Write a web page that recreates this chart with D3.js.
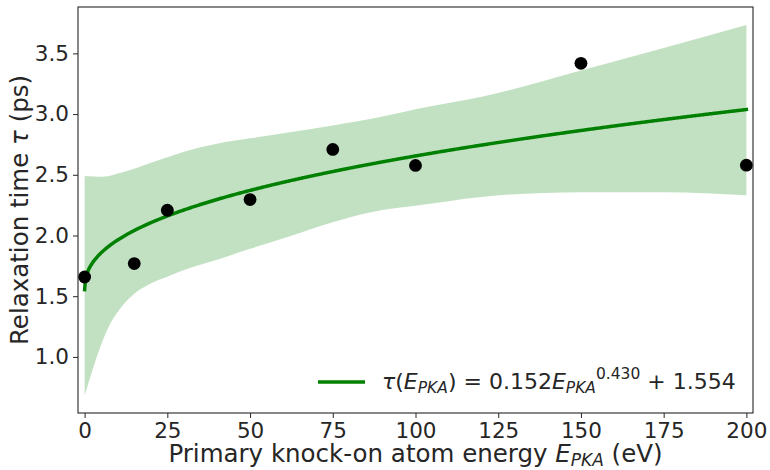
<!DOCTYPE html>
<html>
<head>
<meta charset="utf-8">
<script src="https://cdn.jsdelivr.net/npm/d3@7"></script>
<style>
  html, body { margin: 0; padding: 0; background: #fff; }
  svg { display: block; font-family: "DejaVu Sans", sans-serif; }
</style>
</head>
<body>
<svg id="chart" width="770" height="470"></svg>
<script>
// Measured relaxation times per PKA energy
const energies = [0, 15, 25, 50, 75, 100, 150, 200];
const tauValues = [1.658, 1.769, 2.208, 2.296, 2.709, 2.577, 3.418, 2.579];

// Confidence band of the power-law fit
const bandE    = [0, 2, 4, 6, 8, 10, 12, 15, 20, 25, 30, 40, 50, 62, 75, 90, 100, 120, 150, 175, 200];
const bandLow  = [0.683, 0.86, 1.027, 1.17, 1.287, 1.37, 1.439, 1.52, 1.605, 1.66, 1.715, 1.80, 1.89, 1.994, 2.11, 2.21, 2.245, 2.318, 2.357, 2.357, 2.332];
const bandHigh = [2.49, 2.487, 2.483, 2.485, 2.495, 2.51, 2.525, 2.55, 2.60, 2.645, 2.69, 2.756, 2.80, 2.85, 2.907, 2.98, 3.04, 3.142, 3.36, 3.545, 3.733];

// Fit parameters: tau = a * E^b + c
const fitA = 0.152, fitB = 0.430, fitC = 1.554;

const xTicks = [0, 25, 50, 75, 100, 125, 150, 175, 200];
const yTicks = [1.0, 1.5, 2.0, 2.5, 3.0, 3.5];

const svg = d3.select("#chart");
const plotLeft = 78, plotRight = 753, plotTop = 7, plotBottom = 413;
const textColor = "#262626";

const x = d3.scaleLinear().domain([-2, 202]).range([plotLeft, plotRight]);
const y = d3.scaleLinear().domain([0.538, 3.882]).range([plotBottom, plotTop]);

const plot = svg.append("g");

// Confidence band
const band = bandE.map((e, i) => ({ e, lo: bandLow[i], hi: bandHigh[i] }));
plot.append("path")
  .datum(band)
  .attr("fill", "green")
  .attr("fill-opacity", 0.24)
  .attr("d", d3.area()
    .x(d => x(d.e))
    .y0(d => y(d.lo))
    .y1(d => y(d.hi))
    .curve(d3.curveMonotoneX));

// Fitted curve
const fitE = d3.range(0, 200.001, 0.25);
plot.append("path")
  .datum(fitE)
  .attr("fill", "none")
  .attr("stroke", "green")
  .attr("stroke-width", 3.5)
  .attr("stroke-linecap", "square")
  .attr("d", d3.line()
    .x(e => x(e))
    .y(e => y(fitA * Math.pow(e, fitB) + fitC)));

// Data points
plot.selectAll("circle.pt")
  .data(energies.map((e, i) => ({ e, t: tauValues[i] })))
  .join("circle")
  .attr("class", "pt")
  .attr("cx", d => x(d.e))
  .attr("cy", d => y(d.t))
  .attr("r", 6.4)
  .attr("fill", "black");

// Axes
const xAxis = svg.append("g")
  .attr("transform", `translate(0,${plotBottom})`)
  .call(d3.axisBottom(x).tickValues(xTicks).tickSize(5).tickPadding(5).tickFormat(d3.format("d")));
const yAxis = svg.append("g")
  .attr("transform", `translate(${plotLeft},0)`)
  .call(d3.axisLeft(y).tickValues(yTicks).tickSize(5).tickPadding(4).tickFormat(d3.format(".1f")));

[xAxis, yAxis].forEach(g => {
  g.select(".domain").remove();
  g.selectAll(".tick line").attr("stroke", textColor).attr("stroke-width", 1);
  g.selectAll(".tick text")
    .attr("fill", textColor)
    .style("font-family", "DejaVu Sans")
    .style("font-size", "21.5px");
});

// Frame
svg.append("rect")
  .attr("x", plotLeft).attr("y", plotTop)
  .attr("width", plotRight - plotLeft).attr("height", plotBottom - plotTop)
  .attr("fill", "none")
  .attr("stroke", textColor)
  .attr("stroke-width", 1.1);

// Axis titles
const xLabel = svg.append("text")
  .attr("x", (plotLeft + plotRight) / 2)
  .attr("y", 462)
  .attr("text-anchor", "middle")
  .attr("fill", textColor)
  .style("font-size", "24.5px");
xLabel.append("tspan").text("Primary knock-on atom energy ");
xLabel.append("tspan").attr("font-style", "italic").text("E");
xLabel.append("tspan").attr("font-style", "italic").attr("font-size", "17px").attr("dy", 4).text("PKA");
xLabel.append("tspan").attr("dy", -4).text(" (eV)");

const yLabel = svg.append("text")
  .attr("transform", `translate(28,${(plotTop + plotBottom) / 2}) rotate(-90)`)
  .attr("text-anchor", "middle")
  .attr("fill", textColor)
  .style("font-size", "24.5px");
yLabel.append("tspan").text("Relaxation time ");
yLabel.append("tspan").attr("font-style", "italic").text("τ");
yLabel.append("tspan").text(" (ps)");

// Legend
const legend = svg.append("g");
legend.append("line")
  .attr("x1", 318).attr("x2", 365)
  .attr("y1", 382).attr("y2", 382)
  .attr("stroke", "green")
  .attr("stroke-width", 3.5);

const lt = legend.append("text")
  .attr("x", 382)
  .attr("y", 389)
  .attr("fill", textColor)
  .style("font-size", "22px");
lt.append("tspan").attr("font-style", "italic").text("τ");
lt.append("tspan").text("(");
lt.append("tspan").attr("font-style", "italic").text("E");
lt.append("tspan").attr("font-style", "italic").attr("font-size", "15.5px").attr("dy", 4).text("PKA");
lt.append("tspan").attr("dy", -4).text(")");
lt.append("tspan").attr("dx", 7).text("=");
lt.append("tspan").attr("dx", 7).text(fitA.toFixed(3));
lt.append("tspan").attr("font-style", "italic").text("E");
lt.append("tspan").attr("font-style", "italic").attr("font-size", "15.5px").attr("dy", 4).text("PKA");
lt.append("tspan").attr("font-size", "15.5px").attr("dy", -14).text(fitB.toFixed(3));
lt.append("tspan").attr("dy", 10).attr("dx", 7).text("+");
lt.append("tspan").attr("dx", 7).text(fitC.toFixed(3));
</script>
</body>
</html>
